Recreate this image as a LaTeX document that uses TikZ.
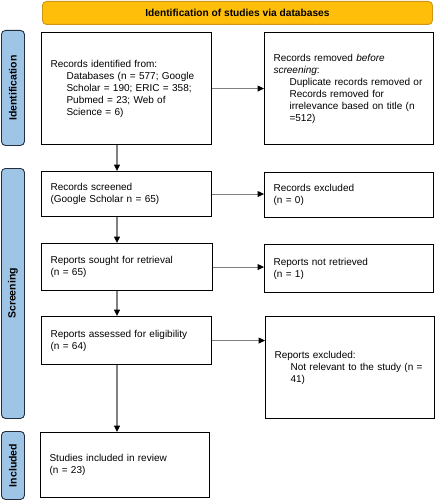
\documentclass[tikz,border=0pt]{standalone}
\usepackage{fontspec}
\setmainfont{Liberation Sans}
\usepackage{tikz}
\usetikzlibrary{arrows.meta, positioning, calc}
\definecolor{bannerfill}{RGB}{255,190,10}
\definecolor{bannerdraw}{RGB}{205,150,20}
\definecolor{sidefill}{RGB}{158,196,230}
\definecolor{sidedraw}{RGB}{35,45,62}
\definecolor{arrgray}{RGB}{128,128,128}
\tikzset{
  flowbox/.style={
    draw,
    line width=1.1pt,
    fill=white,
    anchor=north west,
    align=left,
    inner xsep=9pt,
    inner ysep=0pt,
    font=\fontsize{10}{12}\selectfont
  },
  phase/.style={
    draw=sidedraw,
    fill=sidefill,
    line width=0.9pt,
    rounded corners=4pt,
    anchor=north west,
    minimum width=23pt,
    inner sep=0pt
  },
  phasetext/.style={rotate=90, inner sep=0pt, font=\fontsize{10.5}{11}\selectfont\bfseries},
  banner/.style={
    draw=bannerdraw,
    fill=bannerfill,
    line width=0.9pt,
    rounded corners=4pt,
    anchor=north west,
    minimum width=390pt,
    minimum height=23pt,
    font=\fontsize{10.2}{11}\selectfont\bfseries
  },
  arr/.style={draw=arrgray, line width=1.1pt, -{Triangle[length=6.5pt, width=6pt, color=black]}}
}
\newcommand{\ind}{\hspace*{16pt}}

\begin{document}
\begin{tikzpicture}[x=1pt, y=-1pt]
\useasboundingbox (0,0) rectangle (436,500);

% Header
\node[banner] (head) at (42,1) {Identification of studies via databases};

% Phase labels
\node[phase, minimum height=115pt] (pident) at (1,30) {};
\node[phasetext] (pidenttxt) at (pident.center) {Identification};
\node[phase, minimum height=250pt] (pscreen) at (1,168) {};
\node[phasetext] (pscreentxt) at (pscreen.center) {Screening};
\node[phase, minimum height=68pt] (pincl) at (1,431) {};
\node[phasetext] (pincltxt) at (pincl.center) {Included};

% Left column
\node[flowbox, minimum width=170pt, text width=152pt, minimum height=112pt] (ident) at (41,32)
  {Records identified from:\\
   \ind Databases (n = 577; Google\\
   \ind Scholar = 190; ERIC = 358;\\
   \ind Pubmed = 23; Web of\\
   \ind Science = 6)};
\node[flowbox, minimum width=170pt, text width=152pt, minimum height=45pt] (screen) at (41,171)
  {Records screened\\(Google Scholar n = 65)};
\node[flowbox, minimum width=171pt, text width=153pt, minimum height=47pt] (sought) at (41,243)
  {Reports sought for retrieval\\(n = 65)};
\node[flowbox, minimum width=170pt, text width=152pt, minimum height=48pt] (assess) at (41,316)
  {Reports assessed for eligibility\\(n = 64)};
\node[flowbox, minimum width=169pt, text width=151pt, minimum height=65pt] (incl) at (40,432)
  {Studies included in review\\(n = 23)};

% Right column
\node[flowbox, minimum width=169pt, text width=151pt, minimum height=112pt] (removed) at (264,32)
  {Records removed \textit{before}\\
   \textit{screening}:\\
   \ind Duplicate records removed or\\
   \ind Records removed for\\
   \ind irrelevance based on title (n\\
   \ind =512)};
\node[flowbox, minimum width=169pt, text width=151pt, minimum height=45pt] (exscr) at (264,172)
  {Records excluded\\(n = 0)};
\node[flowbox, minimum width=169pt, text width=151pt, minimum height=48pt] (notret) at (264,244)
  {Reports not retrieved\\(n = 1)};
\node[flowbox, minimum width=169pt, text width=151pt, minimum height=102pt] (exrep) at (265,316)
  {Reports excluded:\\
   \ind Not relevant to the study (n =\\
   \ind 41)};

% Connectors
\coordinate (colx) at (117,0);
\draw[arr] (ident.south -| colx) -- (screen.north -| colx);
\draw[arr] (screen.south -| colx) -- (sought.north -| colx);
\draw[arr] (sought.south -| colx) -- (assess.north -| colx);
\draw[arr] (assess.south -| colx) -- (incl.north -| colx);
\draw[arr] (ident.east) -- (removed.west);
\draw[arr] (screen.east) -- (screen.east -| exscr.west);
\draw[arr] (sought.east) -- (sought.east -| notret.west);
\draw[arr] (assess.east) -- (assess.east -| exrep.west);

\end{tikzpicture}
\end{document}
